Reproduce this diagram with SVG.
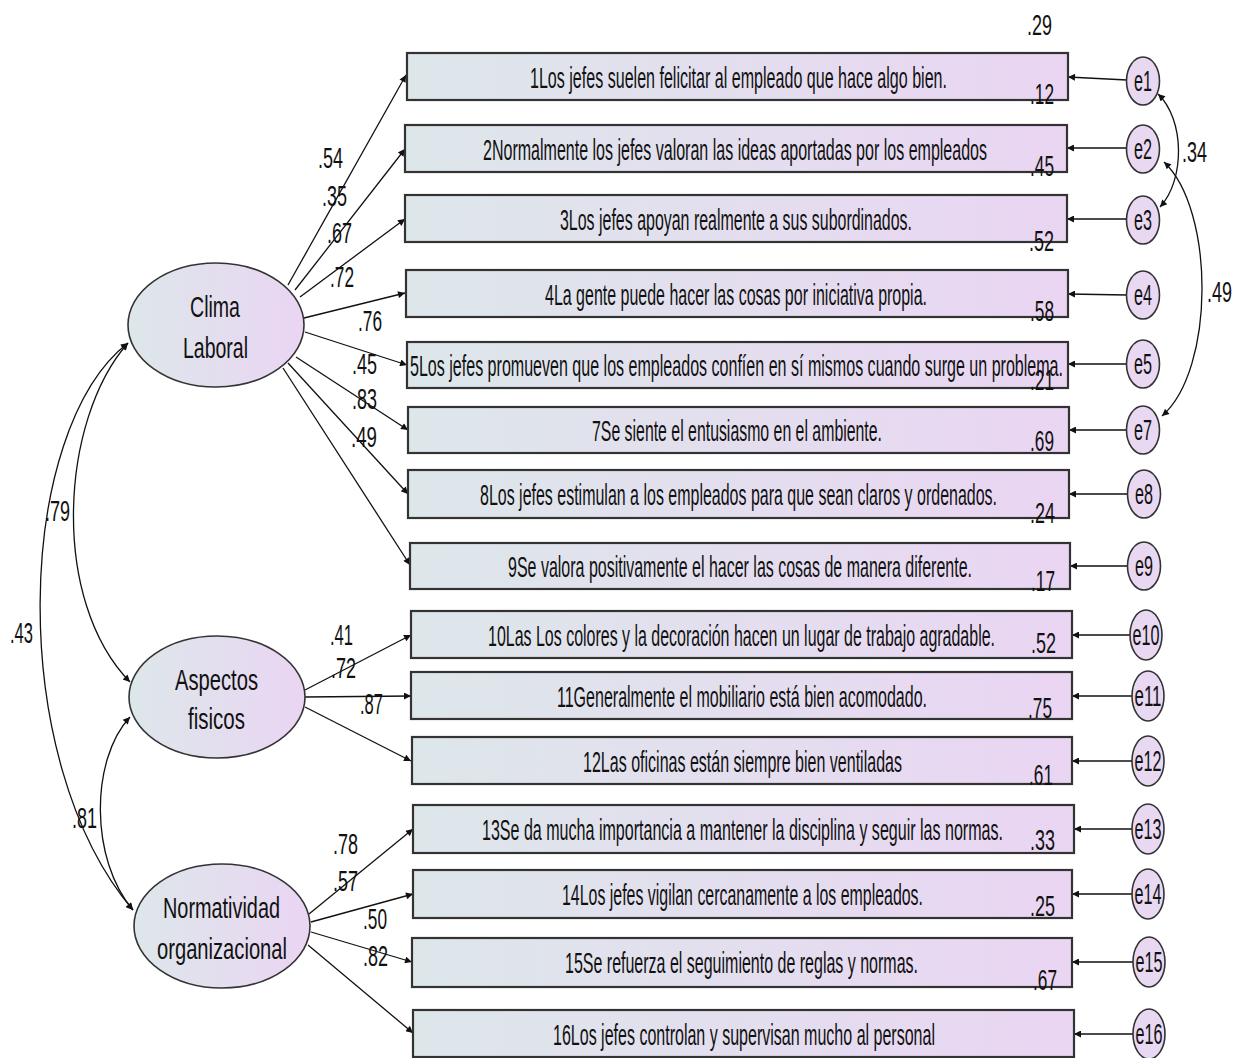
<svg xmlns="http://www.w3.org/2000/svg" width="1243" height="1058" viewBox="0 0 1243 1058">
<defs>
<linearGradient id="gf" x1="0" y1="0" x2="1" y2="0">
<stop offset="0" stop-color="#dde7ea"/>
<stop offset="1" stop-color="#ead5f3"/>
</linearGradient>
<marker id="ah" viewBox="0 0 10 10" refX="10" refY="5" markerWidth="9" markerHeight="7" markerUnits="userSpaceOnUse" orient="auto-start-reverse">
<path d="M0,0 L10,5 L0,10 z" fill="#111"/>
</marker>
<style>
.box{fill:url(#gf);stroke:#333;stroke-width:2.2}
.lat{fill:url(#gf);stroke:#333;stroke-width:1.6}
.err{fill:#e9d8f2;stroke:#333;stroke-width:1.6}
.t{font-family:"Liberation Sans Narrow","Liberation Sans",Arial,sans-serif;font-size:30px;fill:#111}
.n{font-family:"Liberation Sans Narrow","Liberation Sans",Arial,sans-serif;font-size:29px;fill:#111}
.c{text-anchor:middle}
.ln{fill:none;stroke:#111;stroke-width:1.3;marker-end:url(#ah)}
.cv{fill:none;stroke:#111;stroke-width:1.3;marker-start:url(#ah);marker-end:url(#ah)}
</style>
</defs>
<rect width="1243" height="1058" fill="#fff"/>

<g id="connectors">
<line class="ln" x1="288" y1="285" x2="406" y2="75"/>
<line class="ln" x1="295" y1="290" x2="405" y2="149"/>
<line class="ln" x1="300" y1="297" x2="405" y2="219"/>
<line class="ln" x1="304" y1="318" x2="405" y2="293"/>
<line class="ln" x1="305" y1="332" x2="407" y2="365"/>
<line class="ln" x1="296" y1="357" x2="408" y2="430"/>
<line class="ln" x1="288" y1="363" x2="408" y2="494"/>
<line class="ln" x1="283" y1="368" x2="410" y2="565"/>
<line class="ln" x1="305" y1="690" x2="411" y2="635"/>
<line class="ln" x1="305" y1="697" x2="411" y2="696"/>
<line class="ln" x1="305" y1="707" x2="411" y2="761"/>
<line class="ln" x1="309" y1="914" x2="413" y2="829"/>
<line class="ln" x1="311" y1="922" x2="413" y2="894"/>
<line class="ln" x1="311" y1="932" x2="412" y2="962"/>
<line class="ln" x1="308" y1="945" x2="413" y2="1033"/>
<line class="ln" x1="1127" y1="80" x2="1068" y2="77"/>
<line class="ln" x1="1127" y1="148" x2="1067" y2="148"/>
<line class="ln" x1="1127" y1="219" x2="1067" y2="219"/>
<line class="ln" x1="1127" y1="295" x2="1068" y2="294"/>
<line class="ln" x1="1127" y1="364" x2="1068" y2="364"/>
<line class="ln" x1="1127" y1="430" x2="1069" y2="430"/>
<line class="ln" x1="1128" y1="494" x2="1069" y2="494"/>
<line class="ln" x1="1128" y1="566" x2="1070" y2="566"/>
<line class="ln" x1="1130" y1="635" x2="1072" y2="635"/>
<line class="ln" x1="1132" y1="696" x2="1072" y2="696"/>
<line class="ln" x1="1132" y1="761" x2="1072" y2="761"/>
<line class="ln" x1="1132" y1="829" x2="1074" y2="829"/>
<line class="ln" x1="1132" y1="894" x2="1072" y2="894"/>
<line class="ln" x1="1133" y1="962" x2="1072" y2="962"/>
<line class="ln" x1="1133" y1="1034" x2="1074" y2="1034"/>
<path class="cv" d="M128,343 C15,430 5,760 133,910"/>
<path class="cv" d="M128,343 C60,420 50,600 130,682"/>
<path class="cv" d="M130,717 C90,760 90,860 133,910"/>
<path class="cv" d="M1158,94 C1185,120 1185,180 1160,207"/>
<path class="cv" d="M1164,162 C1215,210 1215,370 1162,416"/>
</g>

<g id="latent-clima"><ellipse class="lat" cx="216" cy="325" rx="88" ry="62"/>
<text class="t c" x="215" y="317" textLength="50" lengthAdjust="spacingAndGlyphs">Clima</text>
<text class="t c" x="215.5" y="358" textLength="65" lengthAdjust="spacingAndGlyphs">Laboral</text></g>
<g id="latent-aspectos"><ellipse class="lat" cx="217" cy="697" rx="88" ry="61"/>
<text class="t c" x="216.5" y="690" textLength="83" lengthAdjust="spacingAndGlyphs">Aspectos</text>
<text class="t c" x="216.5" y="729" textLength="57" lengthAdjust="spacingAndGlyphs">fisicos</text></g>
<g id="latent-normatividad"><ellipse class="lat" cx="222" cy="926" rx="88" ry="62"/>
<text class="t c" x="221.5" y="918" textLength="117" lengthAdjust="spacingAndGlyphs">Normatividad</text>
<text class="t c" x="222" y="959" textLength="130" lengthAdjust="spacingAndGlyphs">organizacional</text></g>

<g id="item1"><rect class="box" x="407" y="53" width="661" height="47"/><text class="t" x="530" y="88" textLength="417" lengthAdjust="spacingAndGlyphs">1Los jefes suelen felicitar al empleado que hace algo bien.</text></g>
<g id="item2"><rect class="box" x="405" y="125" width="662" height="47"/><text class="t" x="483" y="160" textLength="504" lengthAdjust="spacingAndGlyphs">2Normalmente los jefes valoran las ideas aportadas por los empleados</text></g>
<g id="item3"><rect class="box" x="405" y="195" width="662" height="47"/><text class="t" x="560" y="230" textLength="352" lengthAdjust="spacingAndGlyphs">3Los jefes apoyan realmente a sus subordinados.</text></g>
<g id="item4"><rect class="box" x="406" y="270" width="662" height="47"/><text class="t" x="545" y="305" textLength="382" lengthAdjust="spacingAndGlyphs">4La gente puede hacer las cosas por iniciativa propia.</text></g>
<g id="item5"><rect class="box" x="407" y="342" width="661" height="46"/><text class="t" x="410" y="376" textLength="653" lengthAdjust="spacingAndGlyphs">5Los jefes promueven que los empleados confíen en sí mismos cuando surge un problema.</text></g>
<g id="item7"><rect class="box" x="408" y="407" width="661" height="46"/><text class="t" x="592" y="441" textLength="290" lengthAdjust="spacingAndGlyphs">7Se siente el entusiasmo en el ambiente.</text></g>
<g id="item8"><rect class="box" x="408" y="470" width="661" height="48"/><text class="t" x="480" y="505" textLength="517" lengthAdjust="spacingAndGlyphs">8Los jefes estimulan a los empleados para que sean claros y ordenados.</text></g>
<g id="item9"><rect class="box" x="410" y="543" width="660" height="46"/><text class="t" x="508" y="577" textLength="464" lengthAdjust="spacingAndGlyphs">9Se valora positivamente el hacer las cosas de manera diferente.</text></g>
<g id="item10"><rect class="box" x="411" y="611" width="661" height="47"/><text class="t" x="488" y="646" textLength="507" lengthAdjust="spacingAndGlyphs">10Las Los colores y la decoración hacen un lugar de trabajo agradable.</text></g>
<g id="item11"><rect class="box" x="411" y="672" width="661" height="47"/><text class="t" x="557" y="707" textLength="370" lengthAdjust="spacingAndGlyphs">11Generalmente el mobiliario está bien acomodado.</text></g>
<g id="item12"><rect class="box" x="412" y="737" width="660" height="47"/><text class="t" x="583" y="772" textLength="319" lengthAdjust="spacingAndGlyphs">12Las oficinas están siempre bien ventiladas</text></g>
<g id="item13"><rect class="box" x="413" y="805" width="661" height="48"/><text class="t" x="482" y="840" textLength="521" lengthAdjust="spacingAndGlyphs">13Se da mucha importancia a mantener la disciplina y seguir las normas.</text></g>
<g id="item14"><rect class="box" x="413" y="870" width="659" height="48"/><text class="t" x="562" y="905" textLength="361" lengthAdjust="spacingAndGlyphs">14Los jefes vigilan cercanamente a los empleados.</text></g>
<g id="item15"><rect class="box" x="412" y="938" width="660" height="49"/><text class="t" x="565" y="973" textLength="353" lengthAdjust="spacingAndGlyphs">15Se refuerza el seguimiento de reglas y normas.</text></g>
<g id="item16"><rect class="box" x="413" y="1010" width="661" height="47"/><text class="t" x="553" y="1045" textLength="382" lengthAdjust="spacingAndGlyphs">16Los jefes controlan y supervisan mucho al personal</text></g>

<g id="e1"><ellipse class="err" cx="1143" cy="81" rx="16.5" ry="24"/><text class="t c" x="1143" y="91" textLength="18" lengthAdjust="spacingAndGlyphs">e1</text></g>
<g id="e2"><ellipse class="err" cx="1143" cy="149" rx="16.5" ry="24"/><text class="t c" x="1143" y="159" textLength="18" lengthAdjust="spacingAndGlyphs">e2</text></g>
<g id="e3"><ellipse class="err" cx="1143" cy="220" rx="16.5" ry="24"/><text class="t c" x="1143" y="230" textLength="18" lengthAdjust="spacingAndGlyphs">e3</text></g>
<g id="e4"><ellipse class="err" cx="1143" cy="295" rx="16.5" ry="24"/><text class="t c" x="1143" y="305" textLength="18" lengthAdjust="spacingAndGlyphs">e4</text></g>
<g id="e5"><ellipse class="err" cx="1143" cy="364" rx="16.5" ry="24"/><text class="t c" x="1143" y="374" textLength="18" lengthAdjust="spacingAndGlyphs">e5</text></g>
<g id="e7"><ellipse class="err" cx="1143" cy="430" rx="16.5" ry="24"/><text class="t c" x="1143" y="440" textLength="18" lengthAdjust="spacingAndGlyphs">e7</text></g>
<g id="e8"><ellipse class="err" cx="1144" cy="494" rx="16.5" ry="24"/><text class="t c" x="1144" y="504" textLength="18" lengthAdjust="spacingAndGlyphs">e8</text></g>
<g id="e9"><ellipse class="err" cx="1144" cy="566" rx="16.5" ry="24"/><text class="t c" x="1144" y="576" textLength="18" lengthAdjust="spacingAndGlyphs">e9</text></g>
<g id="e10"><ellipse class="err" cx="1146" cy="635" rx="16" ry="25"/><text class="t c" x="1146" y="645" textLength="27" lengthAdjust="spacingAndGlyphs">e10</text></g>
<g id="e11"><ellipse class="err" cx="1148" cy="696" rx="16" ry="25"/><text class="t c" x="1148" y="706" textLength="27" lengthAdjust="spacingAndGlyphs">e11</text></g>
<g id="e12"><ellipse class="err" cx="1148" cy="761" rx="16" ry="25"/><text class="t c" x="1148" y="771" textLength="27" lengthAdjust="spacingAndGlyphs">e12</text></g>
<g id="e13"><ellipse class="err" cx="1148" cy="829" rx="16" ry="25"/><text class="t c" x="1148" y="839" textLength="27" lengthAdjust="spacingAndGlyphs">e13</text></g>
<g id="e14"><ellipse class="err" cx="1148" cy="894" rx="16" ry="25"/><text class="t c" x="1148" y="904" textLength="27" lengthAdjust="spacingAndGlyphs">e14</text></g>
<g id="e15"><ellipse class="err" cx="1149" cy="962" rx="16" ry="25"/><text class="t c" x="1149" y="972" textLength="27" lengthAdjust="spacingAndGlyphs">e15</text></g>
<g id="e16"><ellipse class="err" cx="1149" cy="1034" rx="16" ry="25"/><text class="t c" x="1149" y="1044" textLength="27" lengthAdjust="spacingAndGlyphs">e16</text></g>

<g id="labels">
<text class="n" x="1027" y="35" textLength="25" lengthAdjust="spacingAndGlyphs">.29</text>
<text class="n" x="1030" y="104" textLength="24" lengthAdjust="spacingAndGlyphs">.12</text>
<text class="n" x="1030" y="176" textLength="24" lengthAdjust="spacingAndGlyphs">.45</text>
<text class="n" x="1029" y="251" textLength="25" lengthAdjust="spacingAndGlyphs">.52</text>
<text class="n" x="1030" y="321" textLength="24" lengthAdjust="spacingAndGlyphs">.58</text>
<text class="n" x="1030" y="390" textLength="24" lengthAdjust="spacingAndGlyphs">.21</text>
<text class="n" x="1030" y="451" textLength="24" lengthAdjust="spacingAndGlyphs">.69</text>
<text class="n" x="1030" y="523" textLength="25" lengthAdjust="spacingAndGlyphs">.24</text>
<text class="n" x="1031" y="591" textLength="24" lengthAdjust="spacingAndGlyphs">.17</text>
<text class="n" x="1031" y="653" textLength="25" lengthAdjust="spacingAndGlyphs">.52</text>
<text class="n" x="1028" y="718" textLength="24" lengthAdjust="spacingAndGlyphs">.75</text>
<text class="n" x="1029" y="785" textLength="24" lengthAdjust="spacingAndGlyphs">.61</text>
<text class="n" x="1030" y="850" textLength="25" lengthAdjust="spacingAndGlyphs">.33</text>
<text class="n" x="1030" y="916" textLength="25" lengthAdjust="spacingAndGlyphs">.25</text>
<text class="n" x="1033" y="990" textLength="24" lengthAdjust="spacingAndGlyphs">.67</text>
<text class="n" x="1182" y="162" textLength="25" lengthAdjust="spacingAndGlyphs">.34</text>
<text class="n" x="1207" y="302" textLength="25" lengthAdjust="spacingAndGlyphs">.49</text>
<text class="n" x="318" y="168" textLength="25" lengthAdjust="spacingAndGlyphs">.54</text>
<text class="n" x="322" y="206" textLength="25" lengthAdjust="spacingAndGlyphs">.35</text>
<text class="n" x="327" y="243" textLength="25" lengthAdjust="spacingAndGlyphs">.67</text>
<text class="n" x="330" y="287" textLength="24" lengthAdjust="spacingAndGlyphs">.72</text>
<text class="n" x="358" y="331" textLength="24" lengthAdjust="spacingAndGlyphs">.76</text>
<text class="n" x="352" y="374" textLength="25" lengthAdjust="spacingAndGlyphs">.45</text>
<text class="n" x="352" y="409" textLength="25" lengthAdjust="spacingAndGlyphs">.83</text>
<text class="n" x="351" y="447" textLength="26" lengthAdjust="spacingAndGlyphs">.49</text>
<text class="n" x="330" y="645" textLength="23" lengthAdjust="spacingAndGlyphs">.41</text>
<text class="n" x="331" y="678" textLength="25" lengthAdjust="spacingAndGlyphs">.72</text>
<text class="n" x="360" y="714" textLength="23" lengthAdjust="spacingAndGlyphs">.87</text>
<text class="n" x="333" y="854" textLength="25" lengthAdjust="spacingAndGlyphs">.78</text>
<text class="n" x="333" y="891" textLength="25" lengthAdjust="spacingAndGlyphs">.57</text>
<text class="n" x="363" y="929" textLength="24" lengthAdjust="spacingAndGlyphs">.50</text>
<text class="n" x="363" y="966" textLength="25" lengthAdjust="spacingAndGlyphs">.82</text>
<text class="n" x="45" y="521" textLength="25" lengthAdjust="spacingAndGlyphs">.79</text>
<text class="n" x="10" y="643" textLength="23" lengthAdjust="spacingAndGlyphs">.43</text>
<text class="n" x="72" y="828" textLength="25" lengthAdjust="spacingAndGlyphs">.81</text>
</g>
</svg>
